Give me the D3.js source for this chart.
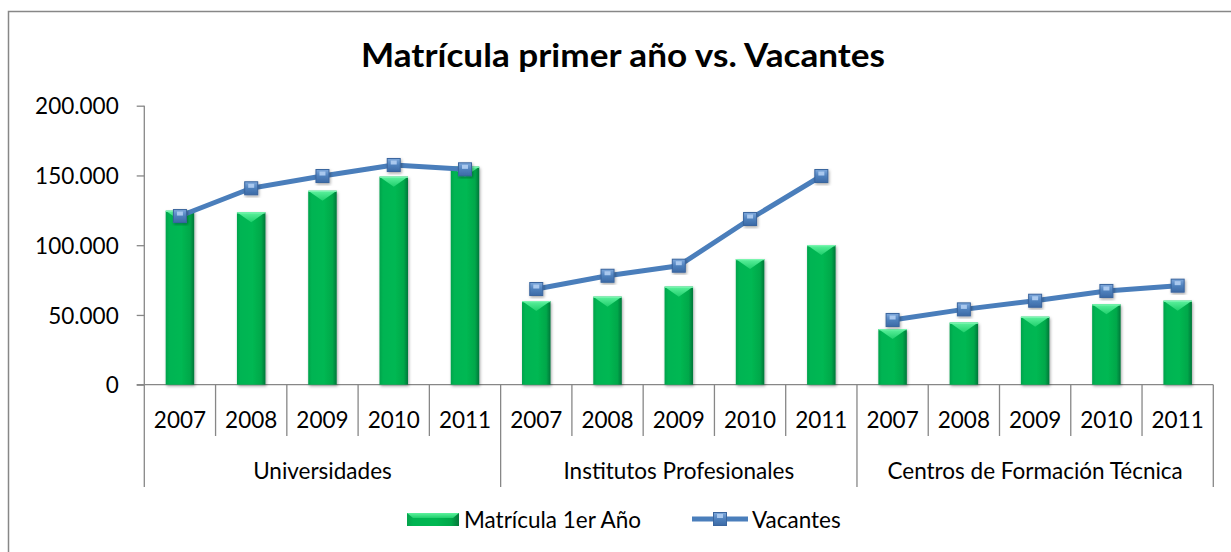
<!DOCTYPE html>
<html><head><meta charset="utf-8">
<script src="https://cdn.jsdelivr.net/npm/d3@7"></script>
<style>
html,body{margin:0;padding:0;background:#fff;overflow:hidden;}
svg{display:block;font-family:Lato,"Open Sans",sans-serif;overflow:hidden;}
</style></head>
<body>
<svg id="chart" width="1231" height="552"></svg>
<script>
const groups = ["Universidades","Institutos Profesionales","Centros de Formación Técnica"];
const years = ["2007","2008","2009","2010","2011"];
const matricula = [
  [124700,123600,139000,149100,156300],
  [60000,63100,70300,90100,100100],
  [39900,44500,48700,57600,60200]
];
const vacantes = [
  [120900,140800,149600,157500,154400],
  [68600,78100,85300,118800,149600],
  [46400,54000,60200,67200,71000]
];
const yTicks = [0,50000,100000,150000,200000];
const title = "Matrícula primer año vs. Vacantes";
const seriesNames = ["Matrícula 1er Año","Vacantes"];

const svg = d3.select("#chart");
const defs = svg.append("defs");

// gradients
const gBar = defs.append("linearGradient").attr("id","gBar").attr("x1","0").attr("x2","1").attr("y1","0").attr("y2","0");
[["0%","#06a24c"],["12%","#00b452"],["55%","#00b852"],["85%","#00a84a"],["100%","#05773a"]].forEach(s=>gBar.append("stop").attr("offset",s[0]).attr("stop-color",s[1]));
const gTop = defs.append("linearGradient").attr("id","gTop").attr("x1","0").attr("x2","0").attr("y1","0").attr("y2","1");
[["0%","#5ef29e"],["100%","#1fcf6c"]].forEach(s=>gTop.append("stop").attr("offset",s[0]).attr("stop-color",s[1]));
const gMk = defs.append("linearGradient").attr("id","gMk").attr("x1","0").attr("x2","0").attr("y1","0").attr("y2","1");
[["0%","#7fa9dc"],["50%","#4f81bd"],["100%","#3c6aa6"]].forEach(s=>gMk.append("stop").attr("offset",s[0]).attr("stop-color",s[1]));
const sh = defs.append("filter").attr("id","sh").attr("x","-50%").attr("y","-20%").attr("width","200%").attr("height","140%");
sh.append("feDropShadow").attr("dx",1).attr("dy",1.5).attr("stdDeviation",1.6).attr("flood-color","#000").attr("flood-opacity",0.35);

// chart border (only top/left edges are inside the picture)
svg.append("path").attr("d","M8.5,552V11.5H1231")
  .attr("fill","none").attr("stroke","#878787").attr("stroke-width",1.5);

const x0 = 144.3, x1 = 1213.3, yTop = 105.7, yBot = 384.7;
const keys = [];
groups.forEach((g,gi)=>years.forEach((yr,yi)=>keys.push(gi+"|"+yi)));
const x = d3.scaleBand().domain(keys).range([x0,x1]).paddingInner(0.6).paddingOuter(0.3);
const step = x.step();
const y = d3.scaleLinear().domain([0,200000]).range([yBot,yTop]);

// title
svg.append("text").attr("x",361).attr("y",67).attr("text-anchor","start")
  .attr("font-weight","bold").attr("font-size",33).attr("fill","#000")
  .attr("textLength",524).attr("lengthAdjust","spacingAndGlyphs").text(title);

// y axis
const yAxis = d3.axisLeft(y).tickValues(yTicks).tickSize(7.6).tickPadding(18)
  .tickFormat(d=>d3.format(",")(d).replace(/,/g,"."));
const ga = svg.append("g").attr("transform",`translate(${x0},0)`).call(yAxis);
ga.select(".domain").remove();
ga.selectAll(".tick line").attr("stroke","#878787").attr("stroke-width",1.3);
ga.selectAll(".tick text").attr("font-size",22.5).attr("fill","#000").attr("font-family","Lato").attr("dy","0.36em");
svg.append("line").attr("x1",x0).attr("x2",x0).attr("y1",yTop).attr("y2",487)
  .attr("stroke","#878787").attr("stroke-width",1.3);
// x axis baseline
svg.append("line").attr("x1",x0-7.6).attr("x2",x1).attr("y1",yBot).attr("y2",yBot)
  .attr("stroke","#878787").attr("stroke-width",1.3);

// category separators and labels
keys.forEach((k,i)=>{
  const left = x(k) - step*0.3;
  const right = left + step;
  const yi = i % 5;
  const isGroupEnd = yi === 4;
  svg.append("line").attr("x1",right).attr("x2",right).attr("y1",yBot)
    .attr("y2", isGroupEnd ? 487 : 436).attr("stroke","#878787").attr("stroke-width",1.3);
  svg.append("text").attr("x",left+step/2).attr("y",427.5).attr("text-anchor","middle")
    .attr("font-size",22.5).attr("fill","#000").text(years[yi]);
});
groups.forEach((g,gi)=>{
  const left = x(gi+"|0") - step*0.3;
  const right = x(gi+"|4") - step*0.3 + step;
  svg.append("text").attr("x",(left+right)/2).attr("y",479).attr("text-anchor","middle")
    .attr("font-size",22.5).attr("fill","#000").text(g);
});

// bars
const bw = x.bandwidth();
const barData = [];
groups.forEach((g,gi)=>years.forEach((yr,yi)=>barData.push({k:gi+"|"+yi,v:matricula[gi][yi]})));
const bars = svg.append("g").selectAll("g").data(barData).join("g");
bars.append("rect").attr("x",d=>x(d.k)).attr("y",d=>y(d.v)).attr("width",bw)
  .attr("height",d=>yBot-y(d.v)).attr("fill","url(#gBar)").attr("filter","url(#sh)");
bars.append("path").attr("d",d=>{
  const l=x(d.k), r=l+bw, t=y(d.v);
  return `M${l},${t}L${r},${t}L${l+bw/2},${t+10}Z`;
}).attr("fill","url(#gTop)");
bars.append("rect").attr("x",d=>x(d.k)).attr("y",d=>y(d.v)).attr("width",bw).attr("height",1.2)
  .attr("fill","#7af5b0");

// lines
const line = d3.line().x(d=>x(d.k)+bw/2).y(d=>y(d.v));
groups.forEach((g,gi)=>{
  const pts = years.map((yr,yi)=>({k:gi+"|"+yi,v:vacantes[gi][yi]}));
  svg.append("path").datum(pts).attr("d",line).attr("fill","none")
    .attr("stroke","#4a7ebb").attr("stroke-width",5).attr("stroke-linejoin","round");
  const mk = svg.append("g").selectAll("g").data(pts).join("g")
    .attr("transform",d=>`translate(${x(d.k)+bw/2},${y(d.v)})`);
  mk.append("rect").attr("x",-6.5).attr("y",-6.5).attr("width",13).attr("height",13)
    .attr("fill","url(#gMk)").attr("stroke","#3a659e").attr("stroke-width",1).attr("filter","url(#sh)");
  mk.append("rect").attr("x",-3).attr("y",-4.5).attr("width",6).attr("height",4).attr("fill","#a9c8ee");
});

// legend
const lg = svg.append("g");
lg.append("rect").attr("x",407).attr("y",513).attr("width",52).attr("height",13).attr("fill","url(#gBar)");
lg.append("path").attr("d","M407,513L459,513L453,518L413,518Z").attr("fill","url(#gTop)");
lg.append("text").attr("x",464).attr("y",527.5).attr("font-size",22.5).attr("fill","#000").text(seriesNames[0]);
lg.append("line").attr("x1",692).attr("x2",748).attr("y1",519).attr("y2",519)
  .attr("stroke","#4a7ebb").attr("stroke-width",5);
lg.append("rect").attr("x",713.5).attr("y",512.5).attr("width",13).attr("height",13)
  .attr("fill","url(#gMk)").attr("stroke","#3a659e");
lg.append("rect").attr("x",717).attr("y",514).attr("width",6).attr("height",4).attr("fill","#a9c8ee");
lg.append("text").attr("x",752).attr("y",527.5).attr("font-size",22.5).attr("fill","#000").text(seriesNames[1]);
</script>
</body></html>
